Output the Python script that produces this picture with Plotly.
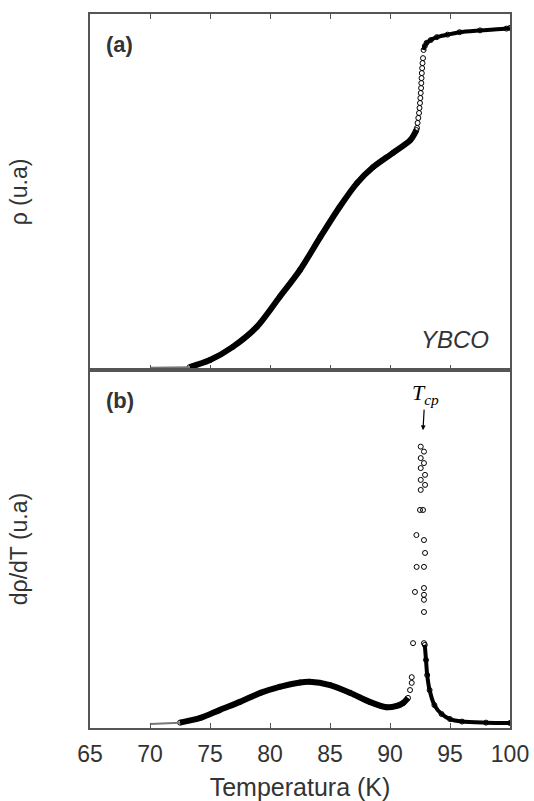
import plotly.graph_objects as go
from plotly.subplots import make_subplots

# ---- panel (a): resistivity rho(T), arbitrary units ----
t_rho = [70, 71, 72, 73.3, 75, 76.9, 78.9, 80.8, 82.5, 84.2, 85.8, 87.25, 88.6, 90.25, 91.7, 92.2]
rho = [0.006, 0.006, 0.007, 0.008, 0.028, 0.065, 0.121, 0.205, 0.281, 0.374, 0.458, 0.525, 0.570,
       0.610, 0.646, 0.674]

# steep transition (individual points)
t_rho_step = [92.25, 92.3, 92.36, 92.42, 92.46, 92.5, 92.53, 92.56, 92.59, 92.61, 92.63, 92.65,
              92.68, 92.71, 92.75]
rho_step = [0.680, 0.694, 0.708, 0.722, 0.736, 0.750, 0.764, 0.778, 0.792, 0.806, 0.820, 0.834,
            0.848, 0.862, 0.876]

# normal state above the transition
t_rho_high = [92.8, 92.9, 93.05, 93.4, 93.9, 94.8, 95.8, 97.5, 99.7, 100]
rho_high = [0.899, 0.910, 0.919, 0.927, 0.935, 0.942, 0.949, 0.954, 0.959, 0.961]

# ---- panel (b): derivative drho/dT, arbitrary units ----
t_der = [70, 72.5, 74.2, 75.8, 77.5, 79.2, 80.8, 82.5, 83.3, 85, 86.7, 88.3, 89.7, 90.5, 91.1, 91.5]
der = [0.011, 0.015, 0.028, 0.050, 0.073, 0.098, 0.115, 0.127, 0.129, 0.120, 0.098, 0.073,
       0.058, 0.061, 0.070, 0.084]

# scattered points around the peak
t_der_peak = [91.67, 91.81, 91.81, 91.92, 92.83, 92.08, 92.83, 92.83, 92.83, 92.83, 92.22, 92.83,
              92.92, 92.2, 92.83, 92.5, 92.75, 92.56, 92.92, 92.56, 92.92, 92.56, 92.83, 92.56,
              92.83, 92.56]
der_peak = [0.106, 0.126, 0.142, 0.237, 0.237, 0.380, 0.324, 0.358, 0.372, 0.391, 0.450, 0.450,
            0.489, 0.539, 0.525, 0.609, 0.609, 0.665, 0.679, 0.693, 0.707, 0.726, 0.740, 0.754,
            0.772, 0.786]

# decay above the peak
t_der_tail = [92.9, 93.0, 93.1, 93.3, 93.7, 94.3, 95, 96, 98, 100]
der_tail = [0.232, 0.190, 0.148, 0.106, 0.064, 0.039, 0.025, 0.018, 0.015, 0.014]

x_ticks = [65, 70, 75, 80, 85, 90, 95, 100]

INK = "black"
FRAME = "#555555"
TEXT = "#333333"
SANS = "Liberation Sans, Arial, sans-serif"

fig = make_subplots(rows=2, cols=1, shared_xaxes=False, vertical_spacing=0,
                    row_heights=[0.4986, 0.5014])

ring = dict(symbol="circle-open", size=5, color=INK, line=dict(width=1, color=INK))


def dense(x, y, row, width=5):
    # a densely sampled run of points reads as a thick trace
    fig.add_trace(go.Scatter(x=x, y=y, mode="lines", line=dict(color=INK, width=width,
                                                               shape="spline", smoothing=0.8),
                             hoverinfo="skip"), row=row, col=1)
    fig.add_trace(go.Scatter(x=x, y=y, mode="markers", marker=ring, hoverinfo="skip"),
                  row=row, col=1)


# (a)
dense(t_rho[3:], rho[3:], 1, width=6)
fig.add_trace(go.Scatter(x=t_rho[:4], y=rho[:4], mode="lines",
                         line=dict(color="#777777", width=2), hoverinfo="skip"), row=1, col=1)
fig.add_trace(go.Scatter(x=t_rho_step, y=rho_step, mode="markers", marker=ring,
                         hoverinfo="skip"), row=1, col=1)
dense(t_rho_high, rho_high, 1, width=4)

# (b)
dense(t_der[1:], der[1:], 2, width=6)
fig.add_trace(go.Scatter(x=t_der[:2], y=der[:2], mode="lines",
                         line=dict(color="#777777", width=2), hoverinfo="skip"), row=2, col=1)
fig.add_trace(go.Scatter(x=t_der_peak, y=der_peak, mode="markers", marker=ring,
                         hoverinfo="skip"), row=2, col=1)
dense(t_der_tail, der_tail, 2, width=4)

axis_common = dict(range=[65, 100], tickvals=x_ticks, ticks="inside", ticklen=5,
                   tickwidth=1, tickcolor=FRAME, showline=True, linecolor=FRAME, linewidth=1.5,
                   showgrid=False, zeroline=False, automargin=False)

fig.update_xaxes(**axis_common, mirror="ticks", showticklabels=False, row=1, col=1)
fig.update_xaxes(**axis_common, mirror=True, showticklabels=True, ticklabelstandoff=5,
                 tickfont=dict(family=SANS, size=23, color=TEXT),
                 title=dict(text="Temperatura (K)", font=dict(family=SANS, size=25, color=TEXT),
                            standoff=12),
                 row=2, col=1)

yaxis_common = dict(showticklabels=False, ticks="", showline=True, linecolor=FRAME,
                    linewidth=1.5, mirror=True, showgrid=False, zeroline=False,
                    automargin=False)
fig.update_yaxes(**yaxis_common, range=[0, 1],
                 title=dict(text="ρ (u.a)", font=dict(family=SANS, size=23, color=TEXT),
                            standoff=54), row=1, col=1)
fig.update_yaxes(**yaxis_common, range=[0, 1],
                 title=dict(text="dρ/dT (u.a)", font=dict(family=SANS, size=23, color=TEXT),
                            standoff=54), row=2, col=1)

fig.add_annotation(text="<b>(a)</b>", xref="x", yref="y", x=66.2, y=0.913, showarrow=False,
                   xanchor="left", font=dict(family=SANS, size=22, color=TEXT))
fig.add_annotation(text="<i>YBCO</i>", xref="x", yref="y", x=95.4, y=0.087, showarrow=False,
                   xanchor="center", font=dict(family=SANS, size=24, color=TEXT))
fig.add_annotation(text="<b>(b)</b>", xref="x2", yref="y2", x=66.2, y=0.916, showarrow=False,
                   xanchor="left", font=dict(family=SANS, size=22, color=TEXT))
fig.add_annotation(text="<i>T</i><sub><i>cp</i></sub>", xref="x2", yref="y2", x=92.75,
                   y=0.832, ax=2, ay=-36, showarrow=True, arrowhead=2, arrowsize=0.8,
                   arrowwidth=1.2, arrowcolor=INK,
                   font=dict(family="Liberation Serif, Times New Roman, serif", size=22,
                             color=INK))

fig.update_layout(width=534, height=801, margin=dict(l=90, r=24, t=14, b=73),
                  paper_bgcolor="white", plot_bgcolor="white", showlegend=False)

fig.write_html("out.html")
